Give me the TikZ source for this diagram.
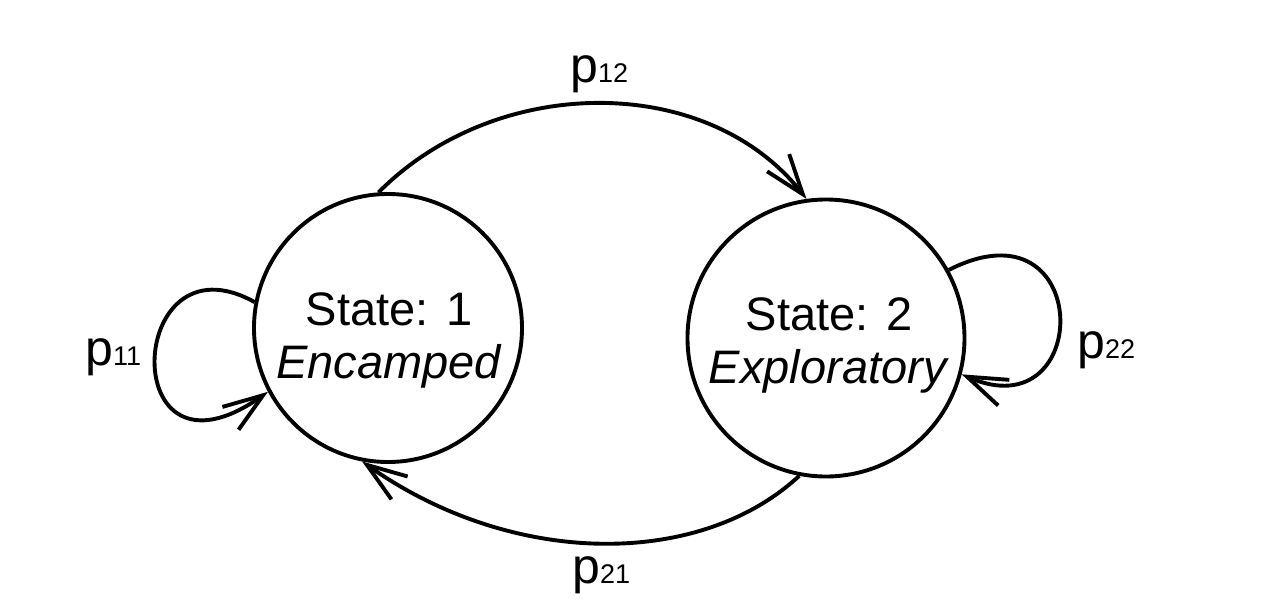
\documentclass[tikz,border=0pt]{standalone}
\usepackage{fontspec}
\setmainfont{Liberation Sans}
\usetikzlibrary{arrows.meta,positioning}
\definecolor{ink}{HTML}{000000}
\newcommand{\ptrans}[1]{p{\fontsize{27}{27}\selectfont #1}}

\begin{document}
\begin{tikzpicture}[x=1pt,y=-1pt,
    state/.style={circle,draw=ink,line width=3.9pt,inner sep=0pt},
    statetext/.style={align=center,font=\fontsize{47}{53}\selectfont,inner sep=0pt},
    plabel/.style={anchor=base west,inner sep=0pt,font=\fontsize{50}{50}\selectfont},
    trans/.style={draw=ink,line width=3.9pt,-{Straight Barb[length=40pt,width=28pt]}}]
  \useasboundingbox (0,0) rectangle (1267,613);
  % the two states
  \node[state,minimum size=268pt] (s1) at (388,328) {};
  \node[state,minimum size=277pt] (s2) at (826,338) {};
  \node[statetext] (t1) at (389,340) {State: 1\\\textit{Encamped}};
  \node[statetext] (t2) at (829,345) {State: 2\\\textit{Exploratory}};
  % transitions
  \draw[trans] (s1.94) .. controls (497,73) and (708,73) .. (s2.98);
  \draw[trans] (s2.259.5) .. controls (700,568) and (513,568) .. (s1.259);
  \draw[trans] (s1.169) .. controls (125,230) and (115,500) .. (s1.208);
  \draw[trans] (s2.29.5) .. controls (1094,196) and (1094,432) .. (s2.345);
  % labels
  \node[plabel] (l12) at (570,82) {\ptrans{12}};
  \node[plabel] (l21) at (572,583) {\ptrans{21}};
  \node[plabel] (l11) at (85,365) {\ptrans{11}};
  \node[plabel] (l22) at (1077,358) {\ptrans{22}};
\end{tikzpicture}
\end{document}
